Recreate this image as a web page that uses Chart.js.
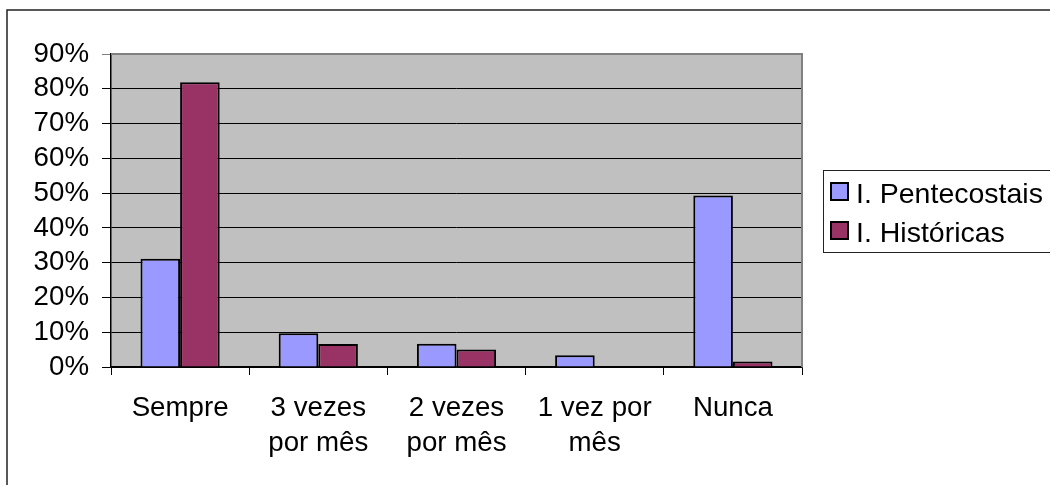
<!DOCTYPE html>
<html>
<head>
<meta charset="utf-8">
<script src="https://cdn.jsdelivr.net/npm/chart.js@4.4.0/dist/chart.umd.min.js"></script>
<style>
  html, body { margin: 0; padding: 0; background: #fff; }
  #wrap { width: 1050px; height: 485px; position: relative; }
</style>
</head>
<body>
<div id="wrap"><canvas id="barChart" width="1050" height="485"></canvas></div>
<script>
const categories = ['Sempre', ['3 vezes', 'por mês'], ['2 vezes', 'por mês'], ['1 vez por', 'mês'], 'Nunca'];
const pentecostais = [31.1, 9.7, 6.7, 3.4, 49.3];
const historicas = [81.9, 6.6, 5.0, 0, 1.6];
const seriesNames = ['I. Pentecostais', 'I. Históricas'];
const yMax = 90;
const yStep = 10;

const FONT = '"Liberation Sans", Arial, sans-serif';

// gray plot background, outer frame, gray top/right edge, legend box
const excelLook = {
    id: 'excelLook',
    beforeDraw(chart) {
        const c = chart.ctx;
        const a = chart.chartArea;
        c.save();
        c.fillStyle = '#fff';
        c.fillRect(0, 0, chart.width, chart.height);
        c.strokeStyle = '#222';
        c.lineWidth = 1.5;
        c.strokeRect(7, 10, 1100, 600);
        c.fillStyle = '#c0c0c0';
        c.fillRect(a.left, a.top, a.right - a.left, a.bottom - a.top);
        c.restore();
    },
    afterDraw(chart) {
        const c = chart.ctx;
        const a = chart.chartArea;
        c.save();
        c.strokeStyle = '#808080';
        c.lineWidth = 2;
        c.beginPath();
        c.moveTo(a.left, a.top);
        c.lineTo(a.right, a.top);
        c.lineTo(a.right, a.bottom);
        c.stroke();

        // legend
        c.strokeStyle = '#222';
        c.lineWidth = 1;
        c.strokeRect(823.5, 170.5, 240, 82);
        c.font = '28.5px ' + FONT;
        c.textBaseline = 'alphabetic';
        c.textAlign = 'left';
        chart.data.datasets.forEach((ds, i) => {
            const y = 183 + i * 39;
            c.fillStyle = ds.backgroundColor;
            c.fillRect(831, y, 17, 17);
            c.strokeStyle = '#000';
            c.lineWidth = 2;
            c.strokeRect(831, y, 17, 17);
            c.fillStyle = '#000';
            c.fillText(ds.label, 856, y + 19.5);
        });
        c.restore();
    }
};

const ctx = document.getElementById('barChart').getContext('2d');
const myChart = new Chart(ctx, {
    type: 'bar',
    data: {
        labels: categories,
        datasets: [{
            label: seriesNames[0],
            data: pentecostais,
            backgroundColor: '#9999ff',
            borderColor: '#000',
            borderWidth: 2
        }, {
            label: seriesNames[1],
            data: historicas,
            backgroundColor: '#993366',
            borderColor: '#000',
            borderWidth: 2
        }]
    },
    options: {
        responsive: false,
        animation: false,
        layout: { padding: { left: 0, top: 54, right: 248, bottom: 0 } },
        categoryPercentage: 0.573,
        barPercentage: 1.0,
        plugins: {
            legend: { display: false },
            tooltip: { enabled: false }
        },
        scales: {
            x: {
                afterFit(scale) { scale.height = 118; },
                grid: {
                    offset: true,
                    drawOnChartArea: false,
                    drawTicks: true,
                    tickLength: 8,
                    color: '#000'
                },
                border: { color: '#000', width: 1.5 },
                ticks: {
                    color: '#000',
                    padding: 16,
                    font: { family: FONT, size: 27.7, lineHeight: 1.27 },
                    maxRotation: 0,
                    autoSkip: false
                }
            },
            y: {
                min: 0,
                max: yMax,
                afterFit(scale) { scale.width = 111; },
                grid: {
                    color: (c) => (c.tick && c.tick.value === yMax ? '#808080' : '#000'),
                    lineWidth: 1,
                    drawTicks: true,
                    tickLength: 9
                },
                border: { color: '#000', width: 1.5 },
                ticks: {
                    stepSize: yStep,
                    autoSkip: false,
                    color: '#000',
                    padding: 13,
                    font: { family: FONT, size: 27.7 },
                    callback: (v) => v + '%'
                }
            }
        }
    },
    plugins: [excelLook]
});
</script>
</body>
</html>
